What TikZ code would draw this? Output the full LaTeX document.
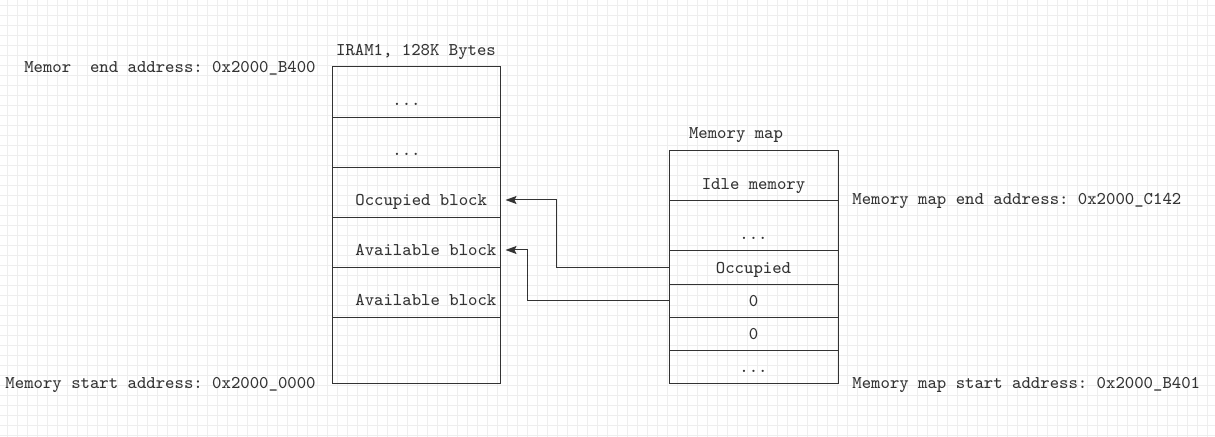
\documentclass[tikz,border=0pt]{standalone}
\usepackage{fontspec}
\usetikzlibrary{arrows.meta}
\definecolor{ink}{HTML}{333333}
\definecolor{gridgray}{HTML}{EEEEEE}
\frenchspacing
\begin{document}
\begin{tikzpicture}[x=0.5pt,y=-0.5pt,
  txt/.style={font=\ttfamily\fontsize{8.95}{10}\selectfont, text=ink, inner sep=0pt, text height=7pt, text depth=1pt},
  irow/.style={draw=ink, line width=0.5pt, minimum width=84pt, inner sep=0pt, anchor=north},
  mrow/.style={draw=ink, line width=0.5pt, minimum width=84.5pt, inner sep=0pt, anchor=north,
    font=\ttfamily\fontsize{8.95}{10}\selectfont, text=ink, text depth=5.5pt},
  link/.style={draw=ink, line width=0.5pt, -{Stealth[length=5.5pt,width=4pt,inset=1pt]}, shorten >=2.5pt}]
\useasboundingbox (0,0) rectangle (1215,437);
\fill[white] (0,0) rectangle (1215,437);
% background grid
\foreach \gx in {7,17,...,1215} \draw[gridgray, line width=0.5pt] (\gx,0) -- (\gx,437);
\foreach \gy in {6,16,...,437} \draw[gridgray, line width=0.5pt] (0,\gy) -- (1215,\gy);
% IRAM1
\node[txt] (iramtitle) at (416,50) {IRAM1, 128K Bytes};
\node[irow, minimum height=25.5pt] (i1) at (416,66) {};
\node[irow, minimum height=25pt] (i2) at (416,117) {};
\node[irow, minimum height=25pt] (i3) at (416,167) {};
\node[irow, minimum height=25pt] (i4) at (416,217) {};
\node[irow, minimum height=25pt] (i5) at (416,267) {};
\node[irow, minimum height=33pt] (i6) at (416,317) {};
\node[txt, anchor=west] (t1) at (392,100) {...};
\node[txt, anchor=west] (t2) at (392,150) {...};
\node[txt, anchor=west] (t3) at (355,200) {Occupied block};
\node[txt, anchor=west] (t4) at (355,250) {Available block};
\node[txt, anchor=west] (t5) at (355,300) {Available block};
\node[txt, anchor=east] (iramend) at (316,67) {Memor\ \ end address: 0x2000\_B400};
\node[txt, anchor=east] (iramstart) at (316,383) {Memory start address: 0x2000\_0000};
% memory map
\node[txt] (maptitle) at (736,133) {Memory map};
\node[mrow, text height=19.5pt] (m1) at (753.5,150) {Idle memory};
\node[mrow, text height=19.5pt] (m2) at (753.5,200) {...};
\node[mrow, text height=11.5pt] (m3) at (753.5,250) {Occupied};
\node[mrow, text height=11pt] (m4) at (753.5,284) {0};
\node[mrow, text height=11pt] (m5) at (753.5,317) {0};
\node[mrow, text height=11pt] (m6) at (753.5,350) {...};
\node[txt, anchor=west] (mapend) at (852,199) {Memory map end address: 0x2000\_C142};
\node[txt, anchor=west] (mapstart) at (852,383) {Memory map start address: 0x2000\_B401};
% links
\draw[link] (m3.west) -- ++(-112,0) |- (t3.east -| i3.east);
\draw[link] (m4.west) -- ++(-141,0) |- (t4.east -| i4.east);
\end{tikzpicture}
\end{document}
